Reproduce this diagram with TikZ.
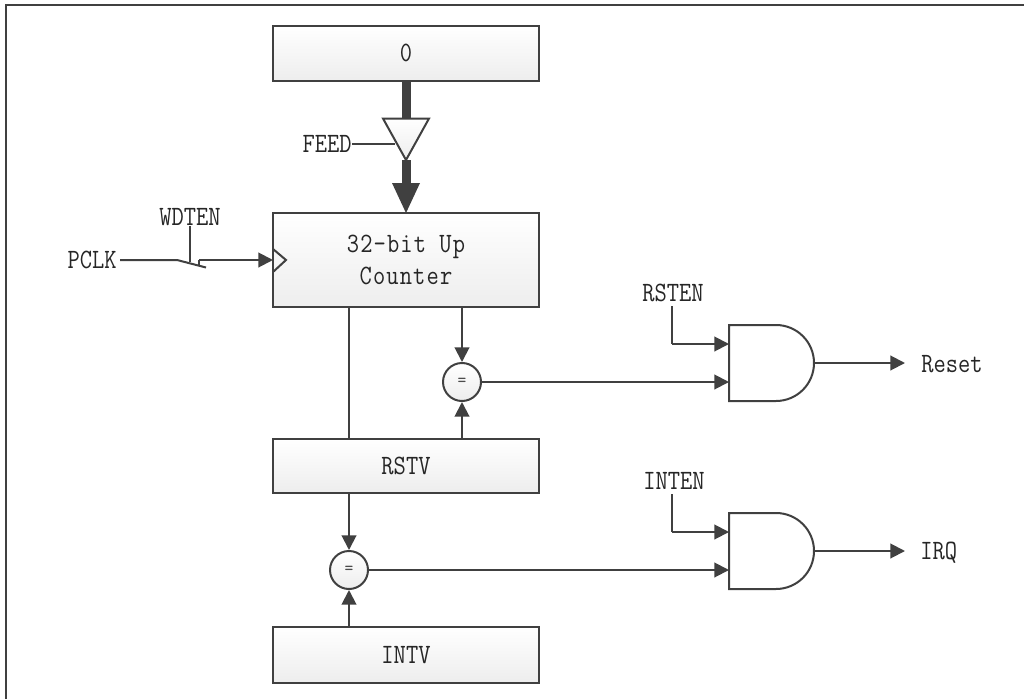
\documentclass[tikz,border=0pt]{standalone}
\usepackage{fontspec}
\setmainfont{Latin Modern Mono}[FakeStretch=0.85]
\usetikzlibrary{arrows.meta}
\definecolor{ink}{HTML}{404040}
\tikzset{
  x=0.75pt,y=-0.75pt,
  line/.style={draw=ink,line width=1.5pt},
  arr/.style={line,-{Triangle[length=11pt,width=11pt]}},
  thick bus/.style={draw=ink,line width=6.75pt},
  blockbox/.style={draw=ink,line width=1.5pt,top color=white,bottom color=black!7,inner sep=0pt,anchor=north west},
  cmp/.style={circle,draw=ink,line width=1.5pt,top color=white,bottom color=black!7,minimum size=28.5pt,inner sep=0pt,text=black!70,font=\fontsize{15}{15}\selectfont},
  lab/.style={font=\fontsize{21}{23}\selectfont,text=black!85,inner sep=0pt,align=center},
  andgate/.style={draw=ink,line width=1.5pt,fill=white}
}
\begin{document}
\begin{tikzpicture}
\useasboundingbox (0,0) rectangle (1024,699);
\fill[white] (0,0) rectangle (1024,699);
\draw[ink,line width=1.5pt] (6,700) -- (6,5.5) -- (1025,5.5);
% boxes
\node[blockbox,minimum width=199.5pt,minimum height=41pt,lab] (zero) at (272,25) {0};
\node[blockbox,minimum width=199.5pt,minimum height=70.5pt,lab] (cnt) at (272,212) {\addfontfeature{LetterSpace=4}32-bit Up\\[1pt]\addfontfeature{LetterSpace=4}Counter};
\node[blockbox,minimum width=199.5pt,minimum height=40.5pt,lab] (rstv) at (272,438) {RSTV};
\node[blockbox,minimum width=199.5pt,minimum height=42pt,lab] (intv) at (272,626) {INTV};
\node[cmp] (eq1) at (462,382) {=};
\node[cmp] (eq2) at (349,570) {=};
% clock tick
\coordinate (ck1) at (273,249);
\coordinate (ck2) at (286,260);
\coordinate (ck3) at (273,272);
\draw[line] (ck1) -- (ck2) -- (ck3);
% bus
\coordinate (bufL) at (383,118.5);
\coordinate (bufR) at (429,118.5);
\coordinate (bufB) at (406,160);
\coordinate (bufT) at (406,118.5);
\draw[thick bus] (zero.south -| bufT) -- (bufT);
\draw[thick bus] (bufB) -- (406,186);
\fill[ink] (392,183) -- (420,183) -- (406,213) -- cycle;
\draw[line,top color=white,bottom color=black!7] (bufL) -- (bufR) -- (bufB) -- cycle;
% FEED
\node[lab,anchor=east] (feed) at (352,144) {FEED};
\coordinate (feedEnd) at (395,144);
\draw[line] (feed.east) -- (feedEnd);
% PCLK switch
\node[lab,anchor=east] (pclk) at (117,260) {PCLK};
\node[lab] (wdten) at (190,217) {WDTEN};
\coordinate (s1) at (177,260);
\coordinate (s2) at (206,267.5);
\coordinate (s3) at (199,260);
\coordinate (s4) at (199,265.5);
\draw[line] (pclk.east) ++(3,0) -- (s1) -- (s2);
\draw[line] (wdten.south) -- (190,262);
\draw[line] (s4) -- (s3);
\draw[arr] (s3) -- (ck1 |- s3);
% counter to compare etc
\coordinate (cL) at (349,307);
\draw[line] (cL) -- (cL |- rstv.north);
\draw[arr] (462,307) -- (eq1.north);
\draw[arr] (462,439) -- (eq1.south);
\draw[arr] (349,493) -- (eq2.north);
\draw[arr] (349,627) -- (eq2.south);
% AND gates
\coordinate (g1) at (729,325);
\draw[andgate] (g1) -- (776,325) arc[start angle=-90,end angle=90,radius=38] -- (729,401) -- cycle;
\coordinate (g2) at (729,513);
\draw[andgate] (g2) -- (776,513) arc[start angle=-90,end angle=90,radius=38] -- (729,589) -- cycle;
% inputs
\node[lab] (rsten) at (673,293) {RSTEN};
\node[lab] (inten) at (674,481) {INTEN};
\coordinate (r1) at (672,344);
\coordinate (i1) at (672,532);
\draw[line] (672,306) -- (r1);
\draw[arr] (r1) -- (729,344);
\draw[line] (672,494) -- (i1);
\draw[arr] (i1) -- (729,532);
\draw[arr] (eq1.east) -- (729,382);
\draw[arr] (eq2.east) -- (729,570);
% outputs
\node[lab,anchor=west] (reset) at (921,364) {Reset};
\node[lab,anchor=west] (irq) at (920,553) {IRQ};
\draw[arr] (814,363) -- (905,363);
\draw[arr] (814,551) -- (905,551);
\end{tikzpicture}
\end{document}
